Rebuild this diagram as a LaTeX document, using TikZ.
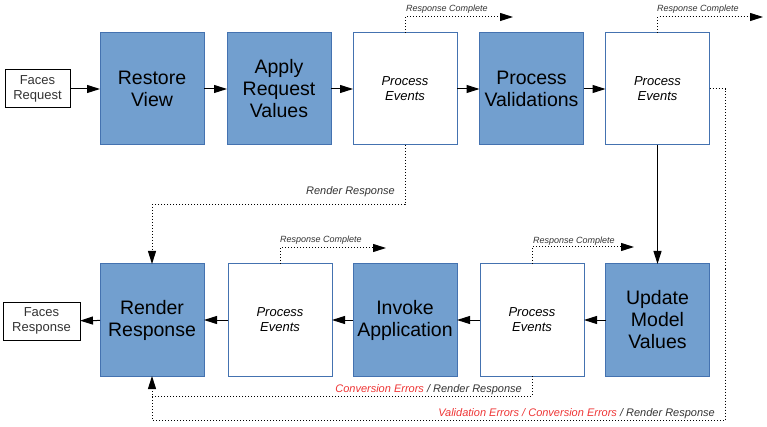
\documentclass[tikz,border=0pt]{standalone}
\usepackage{fontspec}
\setmainfont{Liberation Sans}
\usetikzlibrary{arrows.meta}
\definecolor{boxfill}{HTML}{729FCF}
\definecolor{boxline}{HTML}{4472B0}
\definecolor{errred}{HTML}{EE3535}
\definecolor{lblgray}{HTML}{333333}
\tikzset{
  phase/.style={draw=boxline, fill=boxfill, line width=1pt, minimum width=104pt, minimum height=112pt,
    inner sep=0pt, outer sep=0pt, align=center, font=\fontsize{19.5}{22}\selectfont},
  evbox/.style={draw=boxline, fill=white, line width=1pt, minimum width=104pt, minimum height=112pt,
    inner sep=0pt, outer sep=0pt, align=center, font=\fontsize{13}{15}\selectfont\itshape},
  iobox/.style={draw=black, fill=white, line width=1pt, minimum height=38pt,
    inner sep=0pt, outer sep=0pt, align=center, font=\fontsize{13}{15}\selectfont, text=lblgray},
  flow/.style={line width=1pt, -{Triangle[length=13pt,width=8pt]}},
  dotflow/.style={line width=1pt, dotted, -{Triangle[length=13pt,width=8pt]}},
  dotline/.style={line width=1pt, dotted},
  smalllbl/.style={font=\fontsize{9}{10}\selectfont\itshape, text=lblgray, inner sep=0pt},
  lbl/.style={font=\fontsize{11}{12}\selectfont\itshape, text=lblgray, inner sep=0pt},
  txtshift/.style={text depth=0pt, yshift=-1pt},
}
\begin{document}
\begin{tikzpicture}[x=1pt,y=-1pt]
\useasboundingbox (0,0) rectangle (767,427);
% top row
\node[iobox, minimum width=65pt] (freq) at (37.5,89) {Faces\\Request};
\node[phase] (rv) at (152,89) {Restore\\View};
\node[phase] (arv) at (279,89) {Apply\\Request\\Values};
\node[evbox] (pe1) at (405,89) {Process\\Events};
\node[phase] (pv) at (531.5,89) {Process\\Validations};
\node[evbox] (pe2) at (657.5,89) {Process\\Events};
% bottom row
\node[iobox, minimum width=77pt] (fres) at (41.5,321) {Faces\\Response};
\node[phase] (rr) at (152,320) {Render\\Response};
\node[evbox] (pe3) at (280,320) {Process\\Events};
\node[phase] (ia) at (405,320) {Invoke\\Application};
\node[evbox] (pe4) at (532,320) {Process\\Events};
\node[phase] (umv) at (657.5,320) {Update\\Model\\Values};
% main flow
\draw[flow] (freq) -- (rv);
\draw[flow] (rv) -- (arv);
\draw[flow] (arv) -- (pe1);
\draw[flow] (pe1) -- (pv);
\draw[flow] (pv) -- (pe2);
\draw[flow] (pe2) -- (umv);
\draw[flow] (umv) -- (pe4);
\draw[flow] (pe4) -- (ia);
\draw[flow] (ia) -- (pe3);
\draw[flow] (pe3) -- (rr);
\draw[flow] (rr) -- (fres);
% response complete
\coordinate (rc1) at (513,17);
\coordinate (rc2) at (763,17);
\coordinate (rc3) at (386,248);
\coordinate (rc4) at (634,247);
\draw[dotflow] (pe1.north) |- (rc1);
\draw[dotflow] (pe2.north) |- (rc2);
\draw[dotflow] (pe3.north) |- (rc3);
\draw[dotflow] (pe4.north) |- (rc4);
\node[smalllbl, anchor=west] (l1) at (406,9) {Response Complete};
\node[smalllbl, anchor=west] (l2) at (657,9) {Response Complete};
\node[smalllbl, anchor=west] (l3) at (280,240) {Response Complete};
\node[smalllbl, anchor=west] (l4) at (533,241) {Response Complete};
% render response from pe1
\coordinate (k1) at (405,205);
\draw[dotflow] (pe1.south) -- (k1) -| (rr.north);
\node[lbl, anchor=east] (l5) at (395,192) {Render Response};
% validation errors path
\coordinate (k2) at (725,420);
\draw[dotflow] (pe2.east) -| (k2) -| (rr.south);
\node[lbl, anchor=east] (l6) at (715,414) {\textcolor{errred}{Validation Errors / Conversion Errors} / Render Response};
% conversion errors path
\coordinate (k3) at (152,396);
\draw[dotline] (pe4.south) |- (k3);
\node[lbl, anchor=east] (l7) at (522,390) {\textcolor{errred}{Conversion Errors} / Render Response};
\end{tikzpicture}
\end{document}
